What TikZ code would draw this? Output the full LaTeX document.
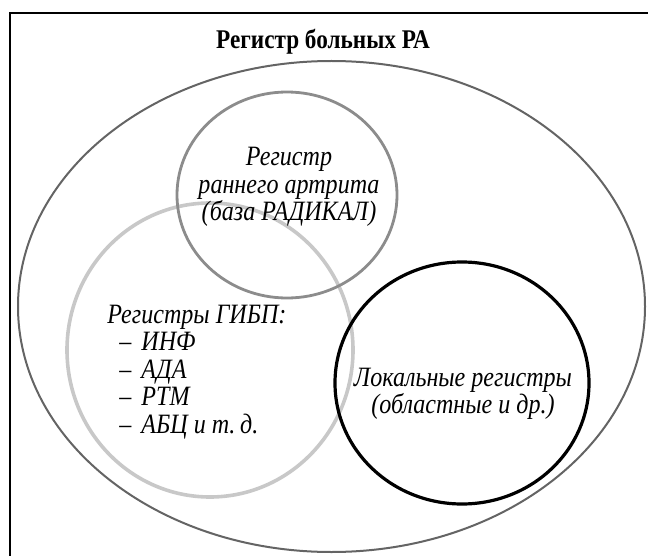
\documentclass[tikz,border=0pt]{standalone}
\usepackage{fontspec}
\setmainfont{Liberation Serif}
\newfontfamily\narrowserif{Liberation Serif}[FakeStretch=0.86]
\usepackage{tikz}
\usetikzlibrary{positioning, calc}
\definecolor{colOuter}{RGB}{100, 100, 100}
\definecolor{colRad}{RGB}{140, 140, 140}
\definecolor{colGibp}{RGB}{200, 200, 200}
\definecolor{colLocal}{RGB}{0, 0, 0}

\begin{document}
\begin{tikzpicture}[x=0.5pt, y=-0.5pt,
    every node/.style={font=\narrowserif\fontsize{14}{13.6}\selectfont\itshape, inner sep=0pt},
    setring/.style={line width=1.6pt}]
    \useasboundingbox (0, 0) rectangle (648, 556);

    % --- Rahmen ---
    \draw[line width=0.6pt] (10, 556) -- (10, 13) -- (648, 13);

    % --- Register RA (aussen) ---
    \draw[setring, line width=1pt, draw=colOuter] (331.5, 306.5) ellipse [x radius=313.5, y radius=245.5];
    \node (title) at (323, 42) {\fontsize{13.5}{14}\selectfont\upshape\bfseries Регистр больных РА};

    % --- Register GIBP ---
    \draw[setring, line width=1.8pt, draw=colGibp] (210, 350) ellipse [x radius=143, y radius=147];
    \node[anchor=west, align=left, font=\narrowserif\fontsize{14}{13.8}\selectfont\itshape]
        (gibp) at (107, 372) {Регистры ГИБП:\\
        \hspace{6pt}–\hspace{5pt}ИНФ\\
        \hspace{6pt}–\hspace{5pt}АДА\\
        \hspace{6pt}–\hspace{5pt}РТМ\\
        \hspace{6pt}–\hspace{5pt}АБЦ и т.\,д.};

    % --- Fruehe Arthritis (RADIKAL) ---
    \draw[setring, line width=1.4pt, draw=colRad] (287, 195) ellipse [x radius=110, y radius=103];
    \node[align=center] (radikal) at (289, 187) {Регистр\\раннего артрита\\(база РАДИКАЛ)};

    % --- Lokale Register ---
    \draw[setring, draw=colLocal] (462, 383) ellipse [x radius=127, y radius=121];
    \node[align=center] (lokal) at (463, 394) {Локальные регистры\\(областные и др.)};

\end{tikzpicture}
\end{document}
